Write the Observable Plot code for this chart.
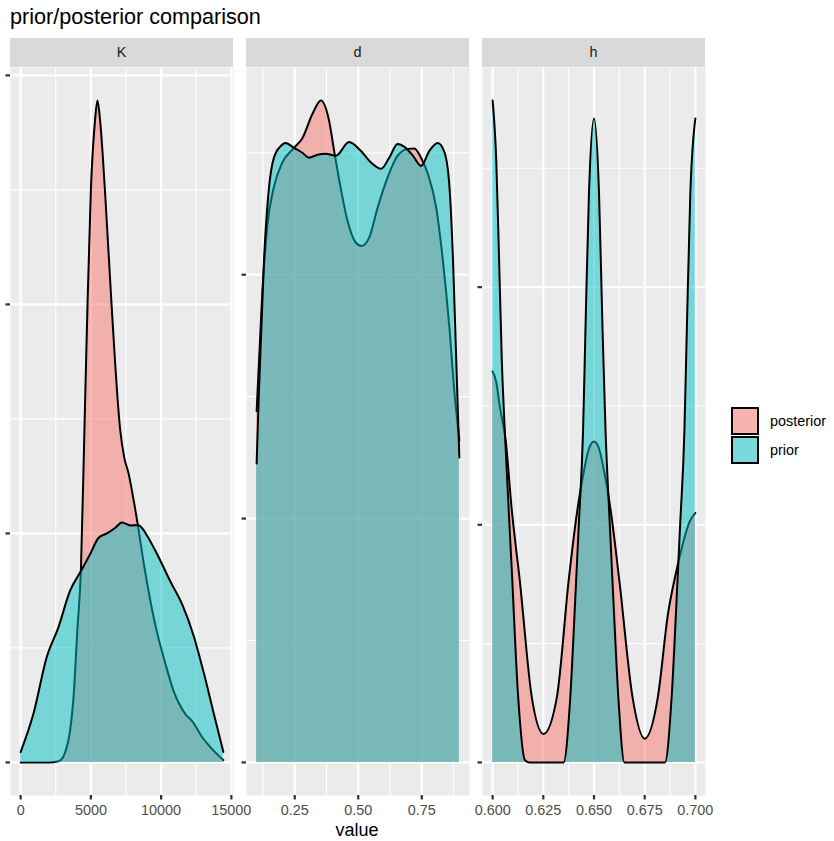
<!DOCTYPE html>
<html>
<head>
<meta charset="utf-8">
<script src="https://cdn.jsdelivr.net/npm/d3@7"></script>
<script src="https://cdn.jsdelivr.net/npm/@observablehq/plot@0.6"></script>
<style>
  body { margin: 0; background: #fff; }
  #chart { position: relative; width: 834px; height: 841px; font-family: "Liberation Sans", Arial, sans-serif; overflow: hidden; }
  .abs { position: absolute; }
  .title { left: 10px; top: 5.7px; font-size: 21.6px; line-height: 21.6px; color: #000; white-space: nowrap; }
  .strip { top: 38px; height: 29px; width: 223px; background: #D9D9D9; color: #1A1A1A; font-size: 14.4px; line-height: 29px; text-align: center; }
  .xtitle { left: 10px; width: 694px; top: 820.7px; font-size: 18px; line-height: 18px; text-align: center; color: #000; }
  .key { left: 731px; width: 28px; height: 28px; background: #F2F2F2; }
  .key div { position: absolute; inset: 0; border: 2.2px solid #000; box-sizing: border-box; }
  .keylabel { left: 770px; font-size: 14.4px; line-height: 28px; color: #000; white-space: nowrap; }
  .panel svg { overflow: visible; max-width: none; }
</style>
</head>
<body>
<div id="chart"></div>
<script>
// Facets, series and their fill colours
const panelNames = ["K", "d", "h"];
const seriesNames = ["posterior", "prior"];
const seriesColors = ["#F8766D", "#00BFC4"];

// K: density estimates
const kPosteriorValue = [0, 2000, 2700, 3000, 3200, 3500, 3760, 4040, 4290, 4540, 4760, 5000, 5290, 5470, 5660, 6000, 6470, 7090, 7380, 7690, 8000, 8360, 8760, 9190, 9660, 10310, 10900, 11740, 12210, 12930, 13520, 14430];
const kPosteriorDensity = [0, 0, 0.005e-4, 0.02e-4, 0.05e-4, 0.13e-4, 0.28e-4, 0.58e-4, 0.84e-4, 1.45e-4, 2.0e-4, 2.5e-4, 2.8e-4, 2.89e-4, 2.8e-4, 2.5e-4, 2.0e-4, 1.45e-4, 1.33e-4, 1.26e-4, 1.16e-4, 1.03e-4, 0.87e-4, 0.72e-4, 0.58e-4, 0.43e-4, 0.31e-4, 0.21e-4, 0.18e-4, 0.11e-4, 0.066e-4, 0.01e-4];
const kPriorValue = [0, 900, 1860, 2690, 3520, 4240, 4950, 5540, 6140, 6740, 7210, 7810, 8400, 9000, 9710, 10660, 11500, 12330, 13040, 13760, 14430];
const kPriorDensity = [0.045e-4, 0.21e-4, 0.46e-4, 0.59e-4, 0.75e-4, 0.83e-4, 0.91e-4, 0.98e-4, 1.0e-4, 1.025e-4, 1.048e-4, 1.035e-4, 1.036e-4, 0.99e-4, 0.91e-4, 0.79e-4, 0.69e-4, 0.55e-4, 0.39e-4, 0.21e-4, 0.045e-4];
const kTicks = [0, 5000, 10000, 15000];
const kMinorTicks = [2500, 7500, 12500];
const kDensityTicks = [0, 1e-4, 2e-4, 3e-4];
const kDensityMinor = [0.5e-4, 1.5e-4, 2.5e-4];

// d: density estimates
const dPosteriorValue = [0.100, 0.122, 0.142, 0.168, 0.201, 0.247, 0.280, 0.320, 0.353, 0.385, 0.405, 0.430, 0.458, 0.490, 0.513, 0.543, 0.576, 0.616, 0.655, 0.695, 0.721, 0.747, 0.774, 0.807, 0.833, 0.859, 0.879, 0.898];
const dPosteriorDensity = [0.72, 0.96, 1.10, 1.18, 1.23, 1.26, 1.28, 1.33, 1.357, 1.316, 1.254, 1.18, 1.11, 1.066, 1.059, 1.076, 1.137, 1.20, 1.244, 1.258, 1.259, 1.24, 1.207, 1.137, 1.03, 0.89, 0.756, 0.66];
const dPriorValue = [0.100, 0.109, 0.129, 0.149, 0.168, 0.195, 0.214, 0.247, 0.280, 0.306, 0.340, 0.372, 0.412, 0.464, 0.510, 0.550, 0.590, 0.622, 0.655, 0.682, 0.715, 0.747, 0.780, 0.813, 0.840, 0.859, 0.873, 0.886, 0.898];
const dPriorDensity = [0.613, 0.76, 1.03, 1.18, 1.24, 1.264, 1.27, 1.26, 1.25, 1.24, 1.246, 1.248, 1.244, 1.272, 1.254, 1.23, 1.217, 1.24, 1.268, 1.262, 1.244, 1.223, 1.254, 1.27, 1.25, 1.18, 1.03, 0.82, 0.625];
const dTicks = [0.25, 0.5, 0.75];
const dMinorTicks = [0.125, 0.375, 0.625, 0.875];
const dDensityTicks = [0, 0.5, 1.0];
const dDensityMinor = [0.25, 0.75, 1.25];

// h: density estimates
const hPosteriorValue = [0.6, 0.6018, 0.6035, 0.6065, 0.6093, 0.6134, 0.6193, 0.6251, 0.6317, 0.6375, 0.6416, 0.645, 0.6475, 0.65, 0.6525, 0.655, 0.6584, 0.6625, 0.669, 0.675, 0.6815, 0.6865, 0.6905, 0.694, 0.697, 0.7];
const hPosteriorDensity = [32.9, 32.0, 30.0, 27.0, 21.5, 15.3, 5.5, 2.4, 5.5, 15.3, 21.0, 24.5, 26.4, 27.0, 26.4, 24.5, 21.0, 15.3, 5.5, 2.0, 5.5, 12.5, 16.0, 18.5, 20.2, 21.0];
const hPriorValue = [0.6, 0.6018, 0.6032, 0.6045, 0.606, 0.6093, 0.6126, 0.6159, 0.618, 0.625, 0.635, 0.6383, 0.6408, 0.6425, 0.6446, 0.6458, 0.6475, 0.65, 0.6525, 0.6542, 0.6557, 0.6578, 0.6595, 0.662, 0.665, 0.675, 0.685, 0.6883, 0.6908, 0.6925, 0.6946, 0.6958, 0.6975, 0.7];
const hPriorDensity = [55.7, 50.6, 42.2, 34.0, 27.9, 16.7, 5.5, 0.2, 0, 0, 0, 5.5, 13.9, 20.0, 27.9, 36.5, 47.8, 54.2, 47.8, 36.5, 27.9, 20.0, 13.9, 5.5, 0, 0, 0, 5.5, 13.9, 20.0, 27.9, 36.5, 47.8, 54.2];
const hTicks = [0.6, 0.625, 0.65, 0.675, 0.7];
const hMinorTicks = [0.6125, 0.6375, 0.6625, 0.6875];
const hDensityTicks = [0, 20, 40];
const hDensityMinor = [10, 30, 50];

const panels = [
  {name: panelNames[0], left: 10, series: [[kPosteriorValue, kPosteriorDensity], [kPriorValue, kPriorDensity]],
   xTicks: kTicks, xMinor: kMinorTicks, yTicks: kDensityTicks, yMinor: kDensityMinor, xFormat: d3.format("d")},
  {name: panelNames[1], left: 246, series: [[dPosteriorValue, dPosteriorDensity], [dPriorValue, dPriorDensity]],
   xTicks: dTicks, xMinor: dMinorTicks, yTicks: dDensityTicks, yMinor: dDensityMinor, xFormat: d3.format(".2f")},
  {name: panelNames[2], left: 482, series: [[hPosteriorValue, hPosteriorDensity], [hPriorValue, hPriorDensity]],
   xTicks: hTicks, xMinor: hMinorTicks, yTicks: hDensityTicks, yMinor: hDensityMinor, xFormat: d3.format(".3f")}
];

const PANEL_W = 223, PANEL_H = 728, PANEL_TOP = 67, TICK_GAP = 13;

function drawPanel(cfg) {
  const allX = cfg.series.flatMap(s => s[0]);
  const allY = cfg.series.flatMap(s => s[1]);
  const [x0, x1] = d3.extent(allX);
  const yMax = d3.max(allY);
  const padX = (x1 - x0) * 0.05, padY = yMax * 0.05;

  const marks = [
    Plot.frame({fill: "#EBEBEB", stroke: "none"}),
    Plot.ruleX(cfg.xMinor, {stroke: "#fff", strokeWidth: 1.1}),
    Plot.ruleY(cfg.yMinor, {stroke: "#fff", strokeWidth: 1.1}),
    Plot.ruleX(cfg.xTicks, {stroke: "#fff", strokeWidth: 2.2}),
    Plot.ruleY(cfg.yTicks, {stroke: "#fff", strokeWidth: 2.2})
  ];
  cfg.series.forEach(([xs, ys], i) => {
    const rows = xs.map((x, j) => ({value: x, density: ys[j]}));
    marks.push(Plot.areaY(rows, {x: "value", y: "density", fill: seriesColors[i], fillOpacity: 0.5, curve: "monotone-x"}));
    marks.push(Plot.lineY(rows, {x: "value", y: "density", stroke: "#000", strokeWidth: 2, curve: "monotone-x"}));
  });
  marks.push(Plot.axisX(cfg.xTicks, {tickSize: 4.5, tickPadding: 5, tickFormat: cfg.xFormat, fontSize: 14.4,
    fill: "#4D4D4D", stroke: "#333333", strokeWidth: 2.2, label: null}));
  marks.push(Plot.axisY(cfg.yTicks, {tickSize: 4.5, tickFormat: () => "", stroke: "#333333", strokeWidth: 2.2, label: null}));

  return Plot.plot({
    width: PANEL_W + TICK_GAP, height: PANEL_H + 30,
    marginLeft: TICK_GAP, marginRight: 0, marginTop: 0, marginBottom: 30,
    x: {domain: [x0 - padX, x1 + padX]},
    y: {domain: [-padY, yMax + padY]},
    style: {background: "transparent", overflow: "visible", fontFamily: "'Liberation Sans', Arial, sans-serif", maxWidth: "none"},
    marks
  });
}

const chart = document.getElementById("chart");
function addDiv(cls, css, text) {
  const el = document.createElement("div");
  el.className = "abs " + cls;
  Object.assign(el.style, css);
  if (text != null) el.textContent = text;
  chart.appendChild(el);
  return el;
}

addDiv("title", {}, "prior/posterior comparison");

panels.forEach(cfg => {
  addDiv("strip", {left: cfg.left + "px"}, cfg.name);
  const holder = addDiv("panel", {left: (cfg.left - TICK_GAP) + "px", top: PANEL_TOP + "px"});
  holder.appendChild(drawPanel(cfg));
});

addDiv("xtitle", {}, "value");

// Legend
seriesNames.forEach((name, i) => {
  const top = 406.5 + i * 29.5;
  const key = addDiv("key", {top: top + "px"});
  const swatch = document.createElement("div");
  const c = d3.color(seriesColors[i]); c.opacity = 0.5;
  swatch.style.background = c.formatRgb();
  key.appendChild(swatch);
  addDiv("keylabel", {top: top + "px"}, name);
});
</script>
</body>
</html>
